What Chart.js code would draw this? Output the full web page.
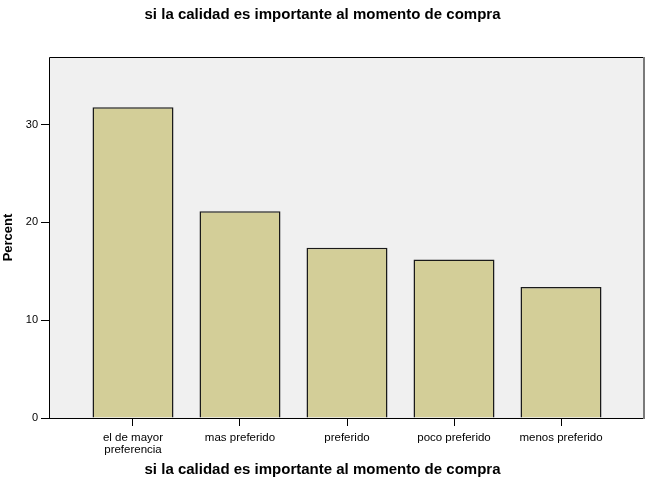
<!DOCTYPE html>
<html><head><meta charset="utf-8">
<script src="https://cdn.jsdelivr.net/npm/chart.js@4.4.0/dist/chart.umd.min.js"></script>
<style>html,body{margin:0;padding:0;background:#fff}#wrap{width:646px;height:481px}</style>
</head><body><div id="wrap"><canvas id="c" width="646" height="481"></canvas></div>
<script>
const chartTitle = 'si la calidad es importante al momento de compra';
const xAxisTitle = 'si la calidad es importante al momento de compra';
const yAxisTitle = 'Percent';
const categories = [['el de mayor', 'preferencia'], 'mas preferido', 'preferido', 'poco preferido', 'menos preferido'];
const percentValues = [31.77, 21.14, 17.40, 16.21, 13.38];
const yTickValues = [0, 10, 20, 30];
const yMax = 36.9;

const FONT = '"Liberation Sans", Arial, Helvetica, sans-serif';
const xPad = 0.785;

const plotBox = {
  id: 'plotBox',
  beforeDatasetsDraw(chart) {
    const {ctx, chartArea: a} = chart;
    ctx.save();
    ctx.fillStyle = '#f0f0f0';
    ctx.fillRect(a.left, a.top, a.right - a.left, a.bottom - a.top);
    ctx.restore();
  },
  afterDatasetsDraw(chart) {
    const {ctx, chartArea: a} = chart;
    ctx.save();
    ctx.lineWidth = 1;
    ctx.strokeStyle = '#000';
    ctx.beginPath();
    ctx.moveTo(a.left + 0.5, a.bottom + 0.5);
    ctx.lineTo(a.left + 0.5, a.top + 0.5);
    ctx.lineTo(a.right - 0.5, a.top + 0.5);
    ctx.moveTo(a.left, a.bottom + 0.5);
    ctx.lineTo(a.right, a.bottom + 0.5);
    ctx.stroke();
    ctx.strokeStyle = '#7a7a7a';
    ctx.lineWidth = 2;
    ctx.beginPath();
    ctx.moveTo(a.right - 1, a.top);
    ctx.lineTo(a.right - 1, a.bottom + 1);
    ctx.stroke();
    ctx.restore();
  }
};

new Chart(document.getElementById('c'), {
  type: 'bar',
  data: {
    datasets: [{
      data: percentValues.map((v, i) => ({x: i, y: v})),
      backgroundColor: '#d3ce98',
      borderColor: '#1a1a1a',
      borderWidth: 1.5,
      borderSkipped: 'bottom',
      categoryPercentage: 1,
      barPercentage: 0.757
    }]
  },
  options: {
    responsive: false,
    devicePixelRatio: 1,
    animation: false,
    layout: {padding: {left: 0, right: 1, top: 0, bottom: 0}},
    plugins: {
      legend: {display: false},
      tooltip: {enabled: false},
      title: {
        display: true, text: chartTitle, color: '#000',
        font: {family: FONT, size: 15, weight: 'bold'},
        padding: {top: 6, bottom: 33}
      },
      subtitle: {
        display: true, position: 'bottom', text: xAxisTitle, color: '#000',
        font: {family: FONT, size: 15, weight: 'bold'},
        padding: {top: 3, bottom: 2}
      }
    },
    scales: {
      x: {
        type: 'linear',
        offset: false,
        min: -xPad,
        max: categories.length - 1 + xPad,
        afterBuildTicks(s) { s.ticks = categories.map((c, i) => ({value: i})); },
        afterFit(s) { s.height = 40; },
        ticks: {
          autoSkip: false, maxRotation: 0, minRotation: 0, padding: 6, color: '#000',
          font: {family: FONT, size: 11.5, lineHeight: 1.05},
          callback: (v, i) => categories[i]
        },
        grid: {display: true, offset: false, drawOnChartArea: false, drawTicks: true, tickLength: 8, color: '#000', lineWidth: 1},
        border: {display: false}
      },
      y: {
        min: 0,
        max: yMax,
        afterBuildTicks(s) { s.ticks = yTickValues.map(v => ({value: v})); },
        afterFit(s) { s.width = 49; },
        ticks: {
          color: '#000', padding: 3,
          font: {family: FONT, size: 11},
          callback: v => String(v)
        },
        grid: {display: true, drawOnChartArea: false, drawTicks: true, tickLength: 8, color: '#000', lineWidth: 1},
        border: {display: false},
        title: {
          display: true, text: yAxisTitle, color: '#000',
          font: {family: FONT, size: 13, weight: 'bold'},
          padding: {top: 1, bottom: 0}
        }
      }
    }
  },
  plugins: [plotBox]
});
</script>
</body></html>
